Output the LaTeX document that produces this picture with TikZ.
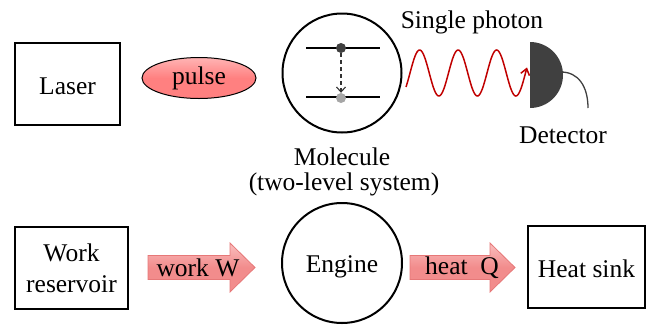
\documentclass[tikz,border=0pt]{standalone}
\usepackage{fontspec}
\setmainfont{Liberation Serif}
\usetikzlibrary{arrows.meta,shapes.geometric}
\definecolor{pulsefill}{RGB}{255,128,128}
\definecolor{pulsetop}{RGB}{255,180,180}
\definecolor{arrfill}{RGB}{242,140,140}
\definecolor{arrtop}{RGB}{250,190,190}
\definecolor{arredge}{RGB}{230,120,120}
\definecolor{wavecol}{RGB}{192,0,0}
\definecolor{detcol}{RGB}{64,64,64}
\begin{document}
\begin{tikzpicture}[x=1pt,y=-1pt,
  lbl/.style={font=\fontsize{25.5}{30}\selectfont, inner sep=0pt},
  boxn/.style={draw, line width=2.2pt, minimum width=105, minimum height=82, inner sep=0pt, align=center,
    font=\fontsize{25.5}{31}\selectfont},
  ringn/.style={draw, circle, line width=2pt, minimum size=119, inner sep=0pt},
  levelline/.style={line width=1.3pt},
  fatarrow/.style={draw=arredge, line width=0.8pt, top color=arrtop, bottom color=arrfill, middle color=arrfill}]
\useasboundingbox (0,0) rectangle (654,325);

% ---- top row ----
\node[boxn] (laser) at (67.5,84) {};
\node[lbl] (laserT) at (67.5,86) {Laser};

\node[ellipse, draw, line width=1pt, minimum width=114, minimum height=41, inner sep=0pt,
      top color=pulsetop, bottom color=pulsefill, middle color=pulsefill,
      font=\fontsize{25.5}{30}\selectfont] (pulse) at (199,78) {pulse};

\node[ringn] (mol) at (342,73) {};
\coordinate (ul) at (306,48);
\coordinate (ur) at (380,48);
\coordinate (ll) at (306,97);
\coordinate (lr) at (380,97);
\draw[levelline] (ul) -- (ur);
\draw[levelline] (ll) -- (lr);
\node[circle, fill=detcol, minimum size=10, inner sep=0pt] (up) at (341,48) {};
\node[circle, fill=gray!70, minimum size=10, inner sep=0pt] (lo) at (341,98) {};
\draw[line width=1.1pt, gray!40!black, dash pattern=on 4pt off 3pt, -{Straight Barb[length=5pt,width=9pt]}] (up) -- (lo);

\node[lbl] (photon) at (472,22) {Single photon};
\draw[wavecol, line width=1.5pt, -{Straight Barb[length=6pt,width=9pt]}]
  plot[domain=406:527, samples=120, smooth] (\x, {73-23*sin(9.35*(\x-410))});

\coordinate (det) at (530,75);
\fill[detcol] (530,42) arc[start angle=-90, end angle=90, radius=33] -- cycle;
\coordinate (wire0) at (561,72);
\coordinate (wire1) at (588,108);
\draw[detcol, line width=1.3pt] (wire0) .. controls (578,72) and (588,86) .. (wire1);
\node[lbl] (detector) at (563,135) {Detector};

\node[lbl] (molA) at (342,157) {Molecule};
\node[lbl] (molB) at (344,184) {(two-level system)};

% ---- bottom row ----
\node[boxn, minimum width=113] (work) at (71.5,268) {Work\\reservoir};

\path[fatarrow] (148,255.5) -- (230,255.5) -- (230,243) -- (255,267.5) -- (230,292) -- (230,279.5) -- (148,279.5) -- cycle;
\node[lbl] (workW) at (198,268) {work W};

\node[ringn, minimum size=120] (engine) at (342,263) {};
\node[lbl] (engineT) at (342,267) {Engine};

\path[fatarrow] (410,255.5) -- (490,255.5) -- (490,243) -- (515,267.5) -- (490,292) -- (490,279.5) -- (410,279.5) -- cycle;
\node[lbl] (heatQ) at (462,268) {heat\ \ Q};

\node[boxn, minimum width=117] (sink) at (586.5,267) {};
\node[lbl] (sinkT) at (586.5,269) {Heat sink};
\end{tikzpicture}
\end{document}
